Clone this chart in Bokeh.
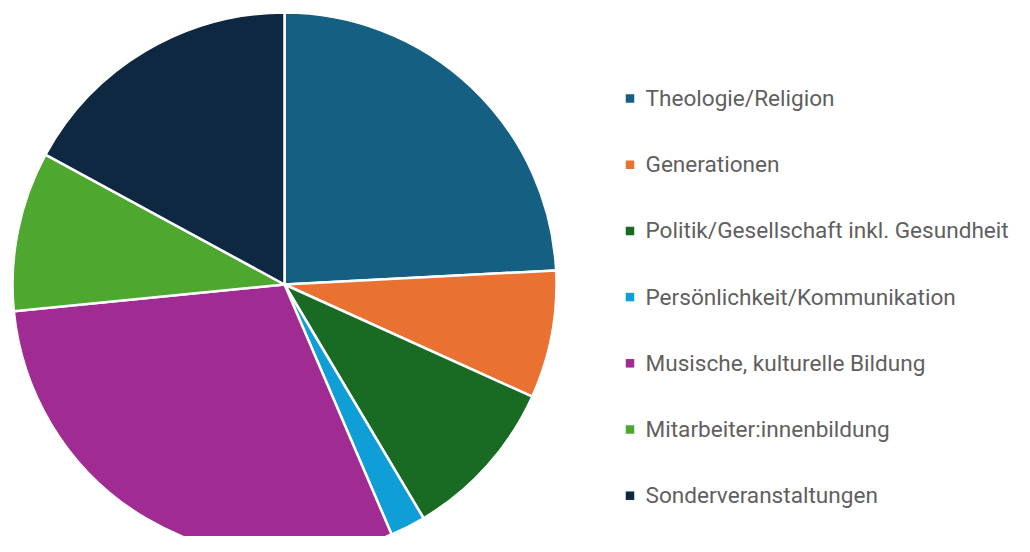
import math
from bokeh.plotting import figure
from bokeh.models import ColumnDataSource
from bokeh.core.properties import value
from bokeh.embed import file_html
from bokeh.resources import INLINE

categories = [
    "Theologie/Religion",
    "Generationen",
    "Politik/Gesellschaft inkl. Gesundheit",
    "Persönlichkeit/Kommunikation",
    "Musische, kulturelle Bildung",
    "Mitarbeiter:innenbildung",
    "Sonderveranstaltungen",
]
shares = [24.2, 7.6, 9.7, 2.1, 29.9, 9.5, 17.1]
colors = ["#156082", "#E97132", "#196B24", "#0F9ED5", "#A02B93", "#4EA72E", "#0E2841"]

W, H = 1014, 536
p = figure(width=W, height=H, x_range=(0, W), y_range=(0, H),
           output_backend="svg", toolbar_location=None,
           min_border=0, outline_line_color=None)
p.axis.visible = False
p.grid.visible = False
p.background_fill_color = "white"
p.border_fill_color = "white"

total = sum(shares)
starts, ends = [], []
cum = 0.0
for s in shares:
    a0 = math.pi / 2 - 2 * math.pi * cum / total
    cum += s
    a1 = math.pi / 2 - 2 * math.pi * cum / total
    starts.append(a1)
    ends.append(a0)

cx, cy, r = 284, H - 284, 272
src = ColumnDataSource(dict(start=starts, end=ends, color=colors, cat=categories))
p.wedge(x=cx, y=cy, radius=r, start_angle="start", end_angle="end",
        direction="anticlock", fill_color="color", line_color="white", line_width=2.5,
        source=src)

# legend
ly0 = 98
step = 66.2
lys = [H - (ly0 + i * step) for i in range(len(categories))]
lsrc = ColumnDataSource(dict(y=lys, color=colors, cat=categories))
p.rect(x=629.5, y="y", width=8.5, height=8.5, fill_color="color", line_color=None, source=lsrc)
p.text(x=645, y="y", text="cat", text_font=value("Roboto"), text_font_size="22.6px",
       text_color="#5f5f5f", text_baseline="middle", text_align="left", source=lsrc)

open("out.html", "w").write(file_html(p, INLINE))
